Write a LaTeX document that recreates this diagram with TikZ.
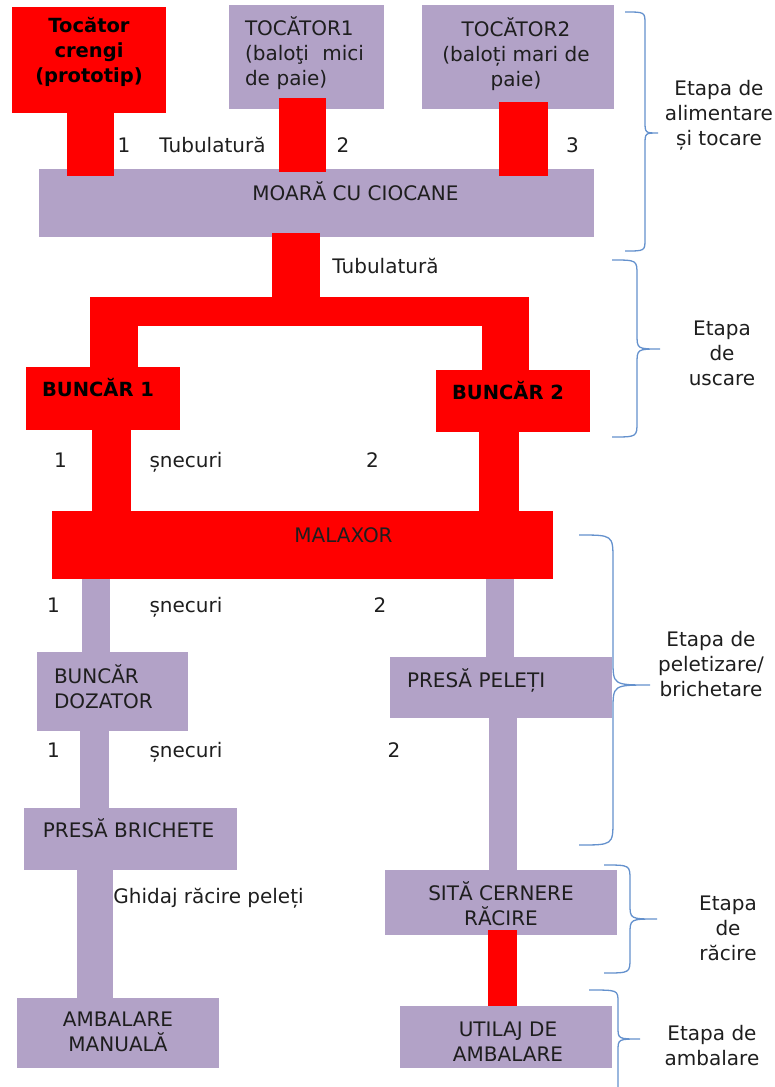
\documentclass[tikz,border=0pt]{standalone}
\usepackage{fontspec}
\setmainfont{DejaVu Sans}
\usetikzlibrary{calc}

\definecolor{lila}{RGB}{178,162,199}
\definecolor{rosu}{RGB}{255,0,0}
\definecolor{albastru}{RGB}{100,145,205}
\definecolor{negru}{RGB}{30,30,30}

\tikzset{
	cutie/.style={fill=lila, inner sep=0pt, outer sep=0pt, anchor=north west},
	cutier/.style={cutie, fill=rosu},
	scris/.style={text=negru, font=\fontsize{20pt}{25pt}\selectfont, align=center, inner sep=0pt},
	gros/.style={scris, text=black, font=\fontsize{19.5pt}{25pt}\selectfont\bfseries},
	sus/.style={anchor=north, yshift=-#1},
	tubr/.style={draw=rosu, line width=#1},
	tubl/.style={draw=lila, line width=#1},
	acol/.style={draw=albastru, line width=1.3pt}
}

% acolada: x capat, x vertical, x varf, y sus, y varf, y jos, raza
\newcommand{\acolada}[7]{%
	\draw[acol] (#1,#4) .. controls (#2,#4) .. (#2,#4+#7) -- (#2,#5-#7)
		.. controls (#2,#5) .. (#3,#5) .. controls (#2,#5) .. (#2,#5+#7)
		-- (#2,#6-#7) .. controls (#2,#6) .. (#1,#6);
}

\begin{document}
\begin{tikzpicture}[x=1pt, y=-1pt]
	\useasboundingbox (0,0) rectangle (775,1087);
	\clip (0,0) rectangle (775,1087);

	% alimentare si tocare
	\node[cutier, minimum width=154pt, minimum height=106pt,
		label={[gros, sus=10pt]north:Tocător\\crengi\\(prototip)}] (tcr) at (12,7) {};
	\node[cutie, minimum width=155pt, minimum height=104pt,
		label={[scris, sus=11pt, xshift=-2pt, align=left, text width=119pt]north:TOCĂTOR1\\(baloţi\hfill mici\\de paie)}] (tc1) at (229,5) {};
	\node[cutie, minimum width=192pt, minimum height=104pt,
		label={[scris, sus=12pt, xshift=-2pt]north:TOCĂTOR2\\(baloți mari de\\paie)}] (tc2) at (422,5) {};
	\node[cutie, minimum width=555pt, minimum height=68pt,
		label={[scris, sus=12pt, xshift=39pt]north:MOARĂ CU CIOCANE}] (moara) at (39,169) {};

	% uscare
	\node[cutier, minimum width=154pt, minimum height=63pt,
		label={[gros, sus=11pt, xshift=-5pt]north:BUNCĂR 1}] (bc1) at (26,367) {};
	\node[cutier, minimum width=154pt, minimum height=62pt,
		label={[gros, sus=11pt, xshift=-5pt]north:BUNCĂR 2}] (bc2) at (436,370) {};
	\node[cutier, minimum width=501pt, minimum height=68pt,
		label={[scris, sus=16pt, xshift=41pt]north:MALAXOR}] (malaxor) at (52,511) {};

	% peletizare / brichetare
	\node[cutie, minimum width=151pt, minimum height=79pt,
		label={[scris, sus=12pt, align=left, text width=117pt]north:BUNCĂR\\DOZATOR}] (bdz) at (37,652) {};
	\node[cutie, minimum width=222pt, minimum height=61pt,
		label={[scris, sus=11pt, align=left, text width=188pt]north:PRESĂ PELEȚI}] (pp) at (390,657) {};
	\node[cutie, minimum width=213pt, minimum height=62pt,
		label={[scris, sus=10pt, xshift=-2pt]north:PRESĂ BRICHETE}] (pb) at (24,808) {};

	% racire si ambalare
	\node[cutie, minimum width=232pt, minimum height=65pt,
		label={[scris, sus=11pt]north:SITĂ CERNERE\\RĂCIRE}] (scr) at (385,870) {};
	\node[cutie, minimum width=202pt, minimum height=70pt,
		label={[scris, sus=14pt]north:AMBALARE\\MANUALĂ}] (am) at (17,998) {};
	\node[cutie, minimum width=212pt, minimum height=62pt,
		label={[scris, sus=16pt, xshift=2pt]north:UTILAJ DE\\AMBALARE}] (ua) at (400,1006) {};

	% tubulaturi
	\coordinate (ram) at (296,311.5);
	\draw[tubr=47pt, shorten >=-7pt] ($(tcr.south)+(1.5,0)$) -- ($(tcr.south |- moara.north)+(1.5,0)$);
	\draw[tubr=47pt, shorten <=-11pt, shorten >=-3pt] ($(tc1.south)+(-4,0)$) -- ($(tc1.south |- moara.north)+(-4,0)$);
	\draw[tubr=49pt, shorten <=-7pt, shorten >=-7pt] ($(tc2.south)+(5.5,0)$) -- ($(tc2.south |- moara.north)+(5.5,0)$);
	\draw[tubr=48pt, shorten <=-4pt] ($(moara.south)+(-20.5,0)$) -- (ram);
	\draw[tubr=29pt, shorten <=-13pt, shorten >=-15pt] (bc1.north |- ram) -- (bc2.north |- ram);
	\draw[tubr=48pt, shorten >=-14.5pt] ($(bc1.north)+(11,0)$) -- ($(bc1.north |- ram)+(11,0)$);
	\draw[tubr=47pt, shorten >=-14.5pt] ($(bc2.north)+(-8,0)$) -- ($(bc2.north |- ram)+(-8,0)$);

	% snecuri
	\draw[tubr=39pt] ($(bc1.south)+(8.5,0)$) -- ($(bc1.south |- malaxor.north)+(8.5,0)$);
	\draw[tubr=40pt] ($(bc2.south)+(-14,0)$) -- ($(bc2.south |- malaxor.north)+(-14,0)$);
	\draw[tubl=28pt] ($(malaxor.south -| bdz.north)+(-16.5,0)$) -- ($(bdz.north)+(-16.5,0)$);
	\draw[tubl=28pt] ($(malaxor.south -| pp.north)+(-1,0)$) -- ($(pp.north)+(-1,0)$);
	\draw[tubl=29pt] ($(bdz.south)+(-18,0)$) -- ($(bdz.south |- pb.north)+(-18,0)$);
	\draw[tubl=28pt] ($(pp.south)+(2,0)$) -- ($(pp.south |- scr.north)+(2,0)$);
	\draw[tubl=36pt] ($(pb.south)+(-35.5,0)$) -- ($(pb.south |- am.north)+(-35.5,0)$);
	\draw[tubr=29pt, shorten <=-5pt] ($(scr.south)+(1.5,0)$) -- ($(scr.south |- ua.north)+(1.5,0)$);

	% etichete
	\node[scris, anchor=base] (n1) at (124,152) {1};
	\node[scris, anchor=base] (tub1) at (212.5,152) {Tubulatură};
	\node[scris, anchor=base] (n2) at (343,152) {2};
	\node[scris, anchor=base] (n3) at (572.5,152) {3};
	\node[scris, anchor=base] (tub2) at (385.5,273) {Tubulatură};
	\node[scris, anchor=base] (s1a) at (60.5,467) {1};
	\node[scris, anchor=base] (sn1) at (186,467) {șnecuri};
	\node[scris, anchor=base] (s1b) at (372.5,467) {2};
	\node[scris, anchor=base] (s2a) at (53.5,612) {1};
	\node[scris, anchor=base] (sn2) at (186,612) {șnecuri};
	\node[scris, anchor=base] (s2b) at (380,612) {2};
	\node[scris, anchor=base] (s3a) at (53.5,757) {1};
	\node[scris, anchor=base] (sn3) at (186,757) {șnecuri};
	\node[scris, anchor=base] (s3b) at (394,757) {2};
	\node[scris, anchor=base] (ghid) at (208.5,903) {Ghidaj răcire peleți};

	% etape
	\acolada{625}{645}{658}{12}{133}{251}{12}
	\acolada{612}{637}{660}{260}{349}{437}{15}
	\acolada{579}{613}{650}{535}{685}{845}{25}
	\acolada{604}{630}{657}{865}{919}{973}{15}
	\acolada{589}{618}{640}{990}{1039}{1130}{12}
	\node[scris] (et1) at (719,115) {Etapa de\\alimentare\\și tocare};
	\node[scris] (et2) at (722,353) {Etapa\\de\\uscare};
	\node[scris] (et3) at (711,664) {Etapa de\\peletizare/\\brichetare};
	\node[scris] (et4) at (728,928) {Etapa\\de\\răcire};
	\node[scris] (et5) at (712,1046) {Etapa de\\ambalare};
\end{tikzpicture}
\end{document}
